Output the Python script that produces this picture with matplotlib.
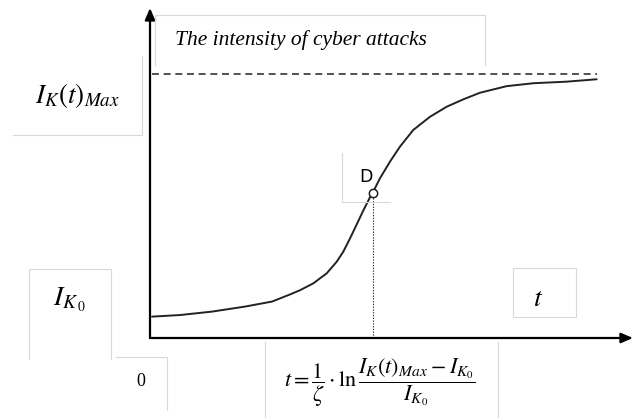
import matplotlib
matplotlib.use("Agg")
import matplotlib.pyplot as plt
from matplotlib.lines import Line2D

plt.rcParams['mathtext.fontset'] = 'stix'
plt.rcParams['lines.scale_dashes'] = False

# ---- data (time, intensity as fraction of maximum) ----
t_vals = [0.045, 0.671, 1.387, 2.125, 2.729, 3.132, 3.356, 3.653, 3.953, 4.177,
          4.324, 4.474, 4.624, 4.772, 4.922, 4.982, 5.145, 5.369, 5.593, 5.890,
          6.264, 6.637, 7.009, 7.383, 7.980, 8.575, 9.322, 9.993]
i_vals = [0.081, 0.087, 0.100, 0.119, 0.138, 0.165, 0.181, 0.207, 0.245, 0.289,
          0.327, 0.377, 0.430, 0.483, 0.533, 0.550, 0.605, 0.668, 0.725, 0.788,
          0.838, 0.876, 0.904, 0.929, 0.954, 0.965, 0.971, 0.980]
i_max = 1.0
t_end = 10.0
point_d = (4.982, 0.550)

title_text = "The intensity of cyber attacks"
label_max = r"$I_K(t)_{Max}$"
label_i0 = r"$I_{K_{\,0}}$"
label_zero = "0"
label_t = r"$t$"
label_d = "D"
formula = r"$t=\dfrac{1}{\zeta}\cdot\ln\dfrac{I_K(t)_{Max}-I_{K_0}}{I_{K_0}}$"

W, H = 639, 418
fig = plt.figure(figsize=(W / 100, H / 100), dpi=100)
ax = fig.add_axes([0, 0, 1, 1])
ax.axis('off')
ax.set_xlim(-3.356, 10.94)
ax.set_ylim(-0.303, 1.2803)


def fx(x):
    return x / W


def fy(y):
    return 1 - y / H


def gline(xs, ys, color='#d9d9d9', lw=0.8):
    fig.add_artist(Line2D([fx(x) for x in xs], [fy(y) for y in ys],
                          transform=fig.transFigure, color=color, lw=lw))


# light gray text-box borders
gline([155, 155, 485, 485], [65, 15, 15, 65])          # title box
gline([13, 142, 142], [135, 135, 56])                  # I max box
gline([29, 29, 111, 111], [359, 269, 269, 359])        # I0 box
gline([116, 167, 167], [357, 357, 410])                # zero box
gline([265, 265], [342, 418])                          # formula box left
gline([498, 498], [342, 418])                          # formula box right
gline([513, 576, 576, 513, 513], [268, 268, 317, 317, 268])  # t box
gline([342, 342, 390], [153, 202, 202])                # D box

# axes arrows
ax.annotate("", xy=(10.805, 0), xytext=(0, 0),
            arrowprops=dict(arrowstyle='-|>,head_length=0.7,head_width=0.3',
                            color='black', lw=1.6, shrinkA=0, shrinkB=0))
ax.annotate("", xy=(0, 1.25), xytext=(0, 0),
            arrowprops=dict(arrowstyle='-|>,head_length=0.7,head_width=0.3',
                            color='black', lw=1.6, shrinkA=0, shrinkB=0))

# max dashed line
ax.plot([0.05, t_end], [i_max, i_max], color='#333333', lw=1.2, dashes=(5, 3.4))

# curve
ax.plot(t_vals, i_vals, color='#222222', lw=1.4, solid_joinstyle='round',
        solid_capstyle='round')

# point D with dotted drop line
ax.plot([point_d[0], point_d[0]], [0, point_d[1]], color='#333333', lw=0.8,
        dashes=(1, 1))
ax.plot([point_d[0]], [point_d[1]], marker='o', ms=6, mfc='white',
        mec='#222222', mew=1.1)

# texts
fig.text(fx(175), fy(40), title_text, family='Liberation Serif', style='italic',
         fontsize=15.5, ha='left', va='center')
fig.text(fx(77), fy(95), label_max, fontsize=19.5, ha='center', va='center')
fig.text(fx(69), fy(300), label_i0, fontsize=20, ha='center', va='center')
fig.text(fx(141), fy(381), label_zero, family='Liberation Serif', fontsize=13,
         ha='center', va='center')
fig.text(fx(538), fy(298), label_t, fontsize=20, ha='center', va='center')
fig.text(fx(366), fy(177), label_d, family='DejaVu Sans', fontsize=12.5,
         ha='center', va='center')
fig.text(fx(380), fy(383), formula, fontsize=16, ha='center', va='center')

fig.savefig("out.png", dpi=100)
